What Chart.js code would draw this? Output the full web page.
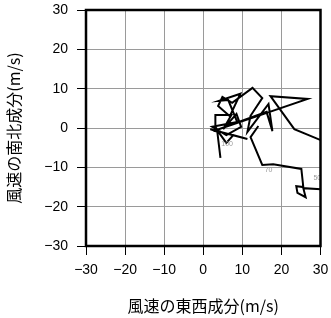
<!DOCTYPE html>
<html>
<head>
<meta charset="utf-8">
<script src="https://cdn.jsdelivr.net/npm/chart.js@4/dist/chart.umd.min.js"></script>
<style>
  body { margin: 0; background: #fff; }
  canvas { display: block; }
</style>
</head>
<body>
<canvas id="myChart" width="331" height="318"></canvas>
<script>
// wind components (m/s), in path order
const uWind = [4.4, 3.6, 1.8, 11.3, 7.7, 5.9, 4.1, 3.1, 3.1, 7.2, 5.1, 8.5, 9.7, 5.9,
	2.3, 8.7, 6.4, 4.1, 9.5, 6.8,
	3.8, 4.9, 7.4, 12.6, 15.1, 12.1, 11.3, 16.7, 17.7, 16.2, 2.6, 26.7, 17.2, 23.3, 33.5,
	34.0, 25.6, 26.2, 24.1, 23.8, 25.6, 25.1, 17.9, 15.1, 12.1, 14.1];
const vWind = [-7.6, -1.0, -0.3, -2.8, -1.8, -3.8, -1.3, 0.3, 3.3, 3.3, -0.3, 3.6, 0.3, -1.8,
	0.3, 1.5, 7.1, 6.9, 8.7, 3.0,
	5.6, 7.9, 6.4, 10.2, 7.6, 3.1, -1.0, 6.1, -0.8, 4.1, -0.8, 7.4, 8.1, -0.3, -4.5,
	-15.8, -15.3, -17.6, -16.5, -14.8, -15.0, -10.4, -9.2, -9.4, -2.3, 0.5];

// level labels (hPa)
const levelText = ['100', '70', '50'];
const levelU = [6.1, 16.7, 29.2];
const levelV = [-4.2, -10.6, -12.7];

const tickValues = [-30, -20, -10, 0, 10, 20, 30];

const points = uWind.map((u, i) => ({ x: u, y: vWind[i] }));

function fmt(v) {
	return v < 0 ? '\u2212' + Math.abs(v) : String(v);
}

const tickFont = { family: '"Liberation Sans", Arial, sans-serif', size: 14 };
const titleFont = { family: '"Noto Sans CJK JP", sans-serif', size: 16 };

/* cadre noir autour de la zone */
const framePlugin = {
	id: 'frame',
	afterDraw(chart) {
		const a = chart.chartArea;
		const ctx = chart.ctx;
		ctx.save();
		ctx.strokeStyle = '#000';
		ctx.lineWidth = 2.5;
		ctx.strokeRect(a.left, a.top, a.right - a.left, a.bottom - a.top);
		ctx.restore();
	},
};

/* petites étiquettes des niveaux */
const levelPlugin = {
	id: 'levels',
	afterDatasetsDraw(chart) {
		const ctx = chart.ctx;
		const xs = chart.scales.x;
		const ys = chart.scales.y;
		ctx.save();
		ctx.fillStyle = '#999';
		ctx.font = '7px "Liberation Sans", Arial, sans-serif';
		ctx.textAlign = 'center';
		ctx.textBaseline = 'middle';
		levelText.forEach((t, i) => {
			ctx.fillText(t, xs.getPixelForValue(levelU[i]), ys.getPixelForValue(levelV[i]));
		});
		ctx.restore();
	},
};

const config = {
	type: 'scatter',
	data: {
		datasets: [
			{
				data: points,
				showLine: true,
				borderColor: '#000',
				borderWidth: 2,
				pointRadius: 0,
				clip: 0,
			},
		],
	},
	options: {
		responsive: false,
		animation: false,
		layout: { padding: { top: 10, right: 10.5, left: 0, bottom: 0 } },
		plugins: { legend: false, tooltip: { enabled: false } },
		scales: {
			x: {
				type: 'linear',
				min: -30,
				max: 30,
				afterBuildTicks: (s) => { s.ticks = tickValues.map((v) => ({ value: v })); },
				afterFit: (s) => { s.height = 72; s.paddingLeft = 0; s.paddingRight = 0; },
				ticks: { autoSkip: false, maxRotation: 0, font: tickFont, color: '#000', padding: 7, callback: fmt },
				grid: { color: '#9a9a9a', lineWidth: 1, tickColor: '#000', tickLength: 9 },
				border: { display: false },
				title: { display: true, text: '風速の東西成分(m/s)', font: titleFont, color: '#000', padding: { top: 0, bottom: 2 } },
			},
			y: {
				type: 'linear',
				min: -30,
				max: 30,
				afterBuildTicks: (s) => { s.ticks = tickValues.map((v) => ({ value: v })); },
				afterFit: (s) => { s.width = 86; s.paddingTop = 0; s.paddingBottom = 0; },
				ticks: { autoSkip: false, font: tickFont, color: '#000', padding: 9, callback: fmt },
				grid: { color: '#9a9a9a', lineWidth: 1, tickColor: '#000', tickLength: 9 },
				border: { display: false },
				title: { display: true, text: '風速の南北成分(m/s)', font: titleFont, color: '#000', padding: { top: 4, bottom: 0 } },
			},
		},
	},
	plugins: [framePlugin, levelPlugin],
};

const context = document.getElementById('myChart').getContext('2d');
const chart = new Chart(context, config);
</script>
</body>
</html>
